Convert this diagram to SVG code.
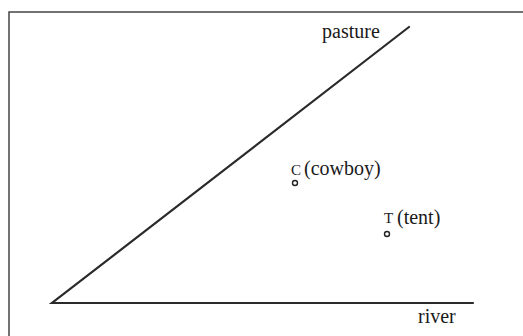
<svg xmlns="http://www.w3.org/2000/svg" width="523" height="336" viewBox="0 0 523 336">
<style>
.ln{stroke:#2a2a2a;stroke-width:2.2;fill:none;stroke-linecap:round}
.fr{stroke:#444;stroke-width:1.5;fill:none}
.t{font-family:"Liberation Serif","Times New Roman",serif;font-size:20px;fill:#1a1a1a}
.s{font-family:"Liberation Serif","Times New Roman",serif;font-size:15px;fill:#1a1a1a}
.pt{fill:#fff;stroke:#222;stroke-width:1.4}
</style>
<rect width="523" height="336" fill="#fff"/>
<g id="frame"><path class="fr" d="M9,337 V12 H523"/></g>
<g id="connectors">
<path class="ln" d="M409,27 L52,303 L473,303"/>
</g>
<g id="pasture"><text class="t" x="322" y="38">pasture</text></g>
<g id="river"><text class="t" x="418" y="323">river</text></g>
<g id="cowboy"><text class="s" x="291" y="175">C</text><text class="t" x="304" y="175">(cowboy)</text><circle class="pt" cx="295" cy="183" r="2.5"/></g>
<g id="tent"><text class="s" x="384" y="223">T</text><text class="t" x="397" y="224">(tent)</text><circle class="pt" cx="387" cy="234" r="2.5"/></g>
</svg>
